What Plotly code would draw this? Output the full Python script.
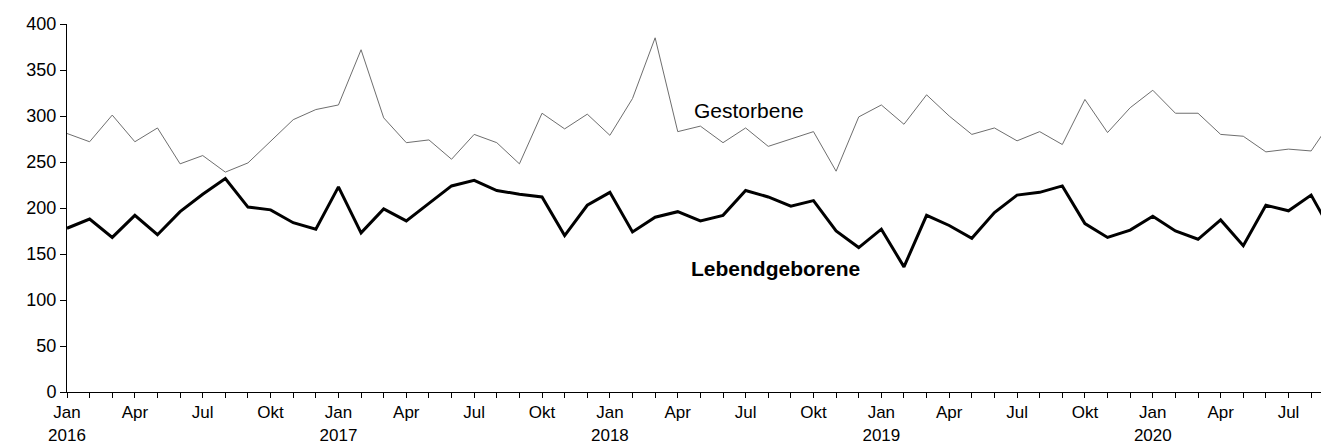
import plotly.graph_objects as go

# Monthly categories Jan 2016 .. Sep 2020
years = [2016, 2017, 2018, 2019, 2020]
month_names = ["Jan", "Feb", "Mär", "Apr", "Mai", "Jun", "Jul", "Aug", "Sep", "Okt", "Nov", "Dez"]
months = [f"{y}-{m:02d}" for y in years for m in range(1, 13)][:57]

gestorbene = [281, 272, 301, 272, 287, 248, 257, 239, 249, 272, 296, 307,
              312, 372, 298, 271, 274, 253, 280, 271, 248, 303, 286, 302,
              279, 319, 385, 283, 289, 271, 287, 267, 275, 283, 240, 299,
              312, 291, 323, 300, 280, 287, 273, 283, 269, 318, 282, 309,
              328, 303, 303, 280, 278, 261, 264, 262, 298]

lebendgeborene = [178, 188, 168, 192, 171, 196, 215, 232, 201, 198, 184, 177,
                  223, 173, 199, 186, 205, 224, 230, 219, 215, 212, 170, 203,
                  217, 174, 190, 196, 186, 192, 219, 212, 202, 208, 175, 157,
                  177, 136, 192, 181, 167, 195, 214, 217, 224, 183, 168, 176,
                  191, 175, 166, 187, 159, 203, 197, 214, 170]

y_ticks = [0, 50, 100, 150, 200, 250, 300, 350, 400]

x = list(range(len(months)))

tickvals = []
ticktext = []
for i, m in enumerate(months):
    yy, mm = m.split("-")
    mm = int(mm)
    tickvals.append(i)
    if mm == 1:
        ticktext.append(f"Jan<br>{yy}")
    elif mm in (4, 7, 10):
        ticktext.append(month_names[mm - 1])
    else:
        ticktext.append("")

fig = go.Figure()
fig.add_trace(go.Scatter(x=x, y=gestorbene, mode="lines", name="Gestorbene",
                         line=dict(color="#6e6e6e", width=1)))
fig.add_trace(go.Scatter(x=x, y=lebendgeborene, mode="lines", name="Lebendgeborene",
                         line=dict(color="black", width=3)))

fig.add_annotation(x=30.16, y=306, text="Gestorbene", showarrow=False,
                   font=dict(family="Liberation Sans, Arial", size=21, color="black"),
                   xanchor="center", yanchor="middle")
fig.add_annotation(x=31.3, y=134, text="<b>Lebendgeborene</b>", showarrow=False,
                   font=dict(family="Liberation Sans, Arial", size=21, color="black"),
                   xanchor="center", yanchor="middle")

fig.update_layout(
    width=1321, height=438,
    margin=dict(l=58.5, r=0, t=15.7, b=54.3, autoexpand=False),
    plot_bgcolor="white", paper_bgcolor="white",
    showlegend=False,
    font=dict(family="Liberation Sans, Arial", size=18, color="black"),
    xaxis=dict(range=[0, 55.79], tickmode="array", tickvals=tickvals, ticktext=ticktext,
               showgrid=False, zeroline=False, showline=True, linecolor="black", linewidth=1,
               ticks="outside", ticklen=5, tickcolor="black", tickwidth=1,
               tickangle=0, tickfont=dict(size=17)),
    yaxis=dict(range=[0, 400], tickmode="array", tickvals=y_ticks,
               showgrid=False, zeroline=False, showline=True, linecolor="black", linewidth=1,
               ticks="outside", ticklen=6, tickcolor="black", tickwidth=1,
               tickfont=dict(size=18)),
)

fig.write_html("out.html")
